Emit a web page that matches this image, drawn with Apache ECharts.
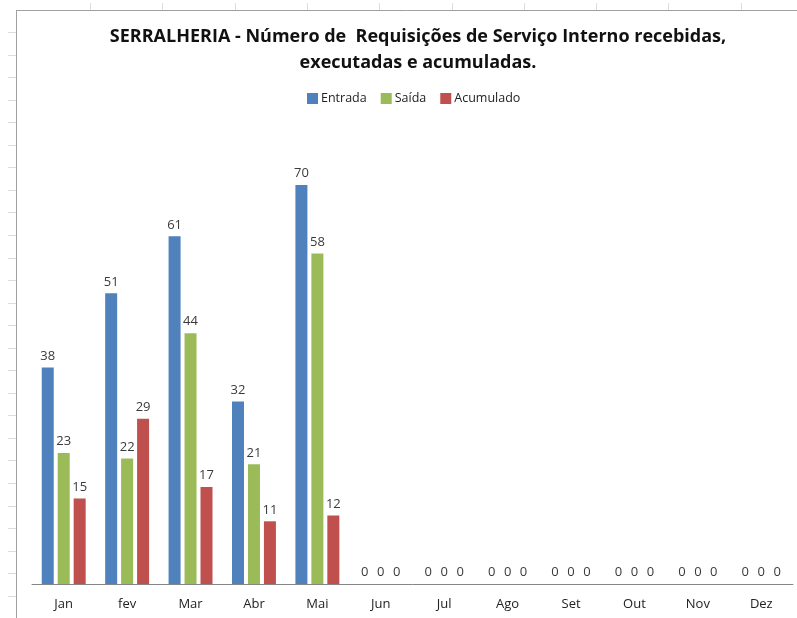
<!DOCTYPE html>
<html>
<head>
<meta charset="utf-8">
<script src="https://cdn.jsdelivr.net/npm/echarts@6/dist/echarts.min.js"></script>
<style>
  html, body { margin: 0; padding: 0; background: #fff; }
  #chart { width: 797px; height: 618px; }
</style>
</head>
<body>
<div id="chart"></div>
<script>
// Months shown on the category axis
const months = ['Jan', 'fev', 'Mar', 'Abr', 'Mai', 'Jun', 'Jul', 'Ago', 'Set', 'Out', 'Nov', 'Dez'];
// Series values
const entrada = [38, 51, 61, 32, 70, 0, 0, 0, 0, 0, 0, 0];
const saida = [23, 22, 44, 21, 58, 0, 0, 0, 0, 0, 0, 0];
const acumulado = [15, 29, 17, 11, 12, 0, 0, 0, 0, 0, 0, 0];

const fontFamily = '"Open Sans", "Noto Sans", sans-serif';

// Spreadsheet frame around the chart (decoration only)
const frame = [
    { type: 'line', shape: { x1: 16, y1: 10.5, x2: 797, y2: 10.5 }, style: { stroke: '#a0a0a0', lineWidth: 1 } },
    { type: 'line', shape: { x1: 16.5, y1: 10, x2: 16.5, y2: 618 }, style: { stroke: '#a0a0a0', lineWidth: 1 } }
];
for (let x = 90; x < 797; x += 72.3) {
    frame.push({ type: 'line', shape: { x1: Math.round(x) + 0.5, y1: 3, x2: Math.round(x) + 0.5, y2: 10 }, style: { stroke: '#dcdcdc', lineWidth: 1 } });
}
for (let y = 32; y < 618; y += 22.55) {
    frame.push({ type: 'line', shape: { x1: 8, y1: Math.round(y) + 0.5, x2: 16, y2: Math.round(y) + 0.5 }, style: { stroke: '#dcdcdc', lineWidth: 1 } });
}

const labelStyle = {
    show: true,
    position: 'top',
    distance: 5,
    color: '#3a3a3a',
    fontSize: 13,
    fontFamily: fontFamily
};

const chart = echarts.init(document.getElementById('chart'));
chart.setOption({
    animation: false,
    backgroundColor: '#ffffff',
    graphic: frame,
    title: {
        text: 'SERRALHERIA - Número de  Requisições de Serviço Interno recebidas,\nexecutadas e acumuladas.',
        left: 413,
        textAlign: 'center',
        top: 19,
        textStyle: {
            fontFamily: fontFamily,
            fontWeight: 'bold',
            fontSize: 18,
            lineHeight: 26,
            color: '#111111'
        }
    },
    legend: {
        top: 87,
        left: 302,
        itemWidth: 11,
        itemHeight: 11,
        itemGap: 14,
        icon: 'rect',
        textStyle: { fontFamily: fontFamily, fontSize: 12.5, color: '#222222', padding: [0, 0, 0, -2] },
        data: ['Entrada', 'Saída', 'Acumulado']
    },
    grid: {
        left: 32,
        right: 4,
        top: 128,
        bottom: 34
    },
    xAxis: {
        type: 'category',
        data: months,
        axisLine: { lineStyle: { color: '#868686', width: 1 } },
        axisTick: { show: false },
        axisLabel: { color: '#222222', fontSize: 13, fontFamily: fontFamily, margin: 14 }
    },
    yAxis: {
        type: 'value',
        min: 0,
        max: 80,
        show: false,
        splitLine: { show: false }
    },
    series: [
        {
            name: 'Entrada',
            type: 'bar',
            data: entrada,
            barWidth: 12,
            barGap: '33%',
            itemStyle: { color: '#4f81bd' },
            label: labelStyle
        },
        {
            name: 'Saída',
            type: 'bar',
            data: saida,
            barWidth: 12,
            barGap: '33%',
            itemStyle: { color: '#9bbb59' },
            label: labelStyle
        },
        {
            name: 'Acumulado',
            type: 'bar',
            data: acumulado,
            barWidth: 12,
            barGap: '33%',
            itemStyle: { color: '#c0504d' },
            label: labelStyle
        }
    ]
});
</script>
</body>
</html>
